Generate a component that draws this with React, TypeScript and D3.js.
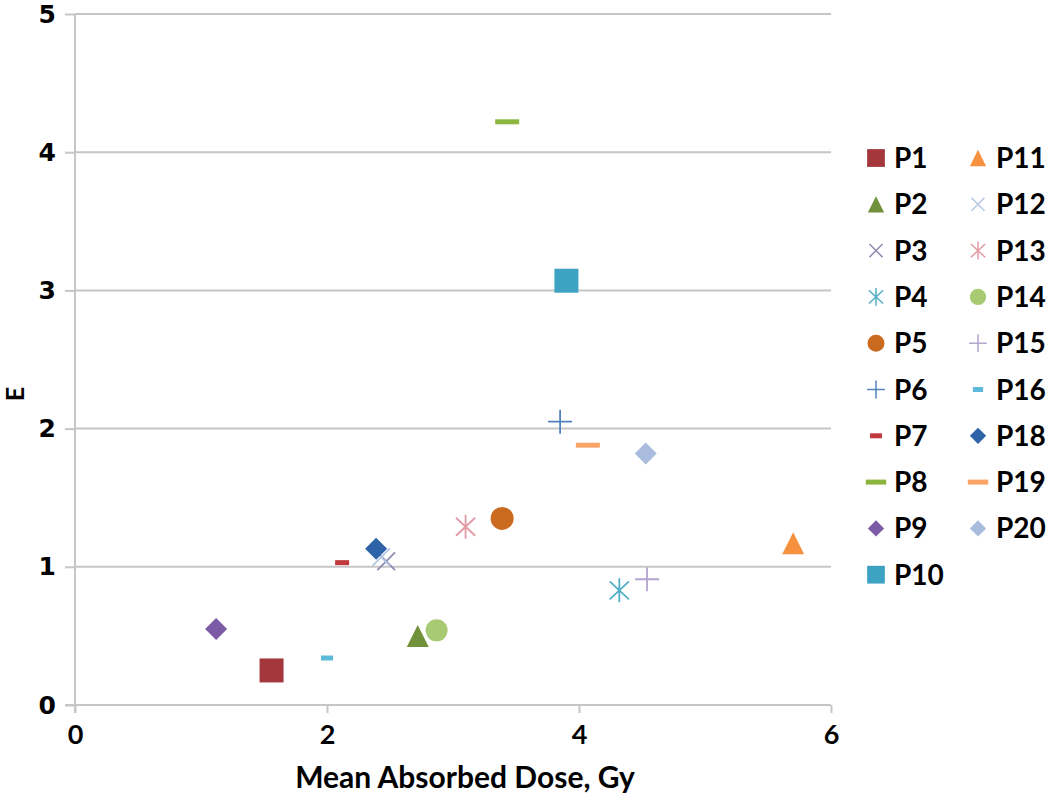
import * as d3 from "d3";
import React, { useEffect, useRef } from "react";

// series as they appear in the legend
const seriesNames = [
  "P1", "P2", "P3", "P4", "P5", "P6", "P7", "P8", "P9", "P10",
  "P11", "P12", "P13", "P14", "P15", "P16", "P18", "P19", "P20",
];

// Mean Absorbed Dose, Gy
const doseValues = [
  1.56, 2.72, 2.47, 4.32, 3.39, 3.85, 2.12, 3.43, 1.12, 3.9,
  5.7, 2.43, 3.1, 2.87, 4.54, 2.0, 2.39, 4.07, 4.53,
];

// E
const eValues = [
  0.25, 0.5, 1.04, 0.83, 1.35, 2.05, 1.03, 4.22, 0.55, 3.07,
  1.17, 1.07, 1.29, 0.54, 0.91, 0.34, 1.13, 1.88, 1.82,
];

const seriesColors = [
  "#a3373b", "#71913a", "#8f8cb2", "#52b0c6", "#c96a20", "#5383bd", "#c0393c", "#8cb53e", "#7c5ba6", "#3ea3c3",
  "#f5913f", "#b5c7e2", "#e49aa4", "#a7ca72", "#b3a5cf", "#5ebad9", "#2e63a8", "#f8a567", "#a9bcdd",
];

const seriesShapes = [
  "square", "triangle", "x", "star", "circle", "plus", "dash", "dash", "diamond", "square",
  "triangle", "x", "star", "circle", "plus", "dash", "diamond", "dash", "diamond",
];

// marker size in px, dash widths per series
const markerSizes = [
  24, 22, 22, 24, 23, 24, 14, 24, 22, 24,
  22, 22, 24, 22, 24, 12, 22, 24, 22,
];

const xTicks = [0, 2, 4, 6];
const yTicks = [0, 1, 2, 3, 4, 5];

const markerPath = (shape: string, s: number): string => {
  const h = s / 2;
  switch (shape) {
    case "square":
      return `M${-h},${-h}h${s}v${s}h${-s}Z`;
    case "triangle":
      return `M0,${-h}L${h},${h}L${-h},${h}Z`;
    case "diamond":
      return `M0,${-h}L${h},0L0,${h}L${-h},0Z`;
    case "circle":
      return d3.symbol(d3.symbolCircle, Math.PI * h * h)() || "";
    case "x":
      return `M${-h * 0.8},${-h * 0.8}L${h * 0.8},${h * 0.8}M${h * 0.8},${-h * 0.8}L${-h * 0.8},${h * 0.8}`;
    case "star":
      return `M${-h * 0.8},${-h * 0.75}L${h * 0.8},${h * 0.75}M${h * 0.8},${-h * 0.75}L${-h * 0.8},${h * 0.75}M0,${-h}L0,${h}`;
    case "plus":
      return `M${-h},0L${h},0M0,${-h}L0,${h}`;
    case "dash":
      return `M${-h},-2.5h${s}v5h${-s}Z`;
    default:
      return "";
  }
};

const isStroked = (shape: string) =>
  shape === "x" || shape === "star" || shape === "plus";

const App: React.FC = () => {
  const chartRef = useRef<SVGSVGElement>(null);
  const width = 1050;
  const height = 797;

  useEffect(() => {
    if (!chartRef.current) return;
    const svg = d3.select(chartRef.current);
    svg.selectAll("*").remove();

    const x = d3.scaleLinear().domain([0, 6]).range([75, 831]);
    const y = d3.scaleLinear().domain([0, 5]).range([705, 14]);

    // horizontal gridlines
    svg
      .append("g")
      .selectAll("line")
      .data(yTicks.filter((d) => d > 0))
      .enter()
      .append("line")
      .attr("x1", x(0))
      .attr("x2", x(6))
      .attr("y1", (d) => y(d))
      .attr("y2", (d) => y(d))
      .attr("stroke", "#c6c6c6")
      .attr("stroke-width", 2);

    // y axis
    const yAxis = svg
      .append("g")
      .attr("transform", `translate(${x(0)},0)`)
      .call(d3.axisLeft(y).tickValues(yTicks).tickSize(10).tickPadding(9).tickFormat(d3.format("d")));
    yAxis.select(".domain").attr("stroke", "#c6c6c6").attr("stroke-width", 2).attr("d", `M0,${y(0) + 8}V${y(5)}`);
    yAxis.selectAll(".tick line").attr("stroke", "#c6c6c6").attr("stroke-width", 2);
    yAxis
      .selectAll("text")
      .attr("fill", "#000")
      .style("font-family", "DejaVu Sans")
      .style("font-weight", "bold")
      .style("font-size", "25px");

    // x axis
    const xAxis = svg
      .append("g")
      .attr("transform", `translate(0,${y(0)})`)
      .call(d3.axisBottom(x).tickValues(xTicks).tickSize(8).tickPadding(12).tickFormat(d3.format("d")));
    xAxis.select(".domain").attr("stroke", "#c6c6c6").attr("stroke-width", 2).attr("d", `M${x(0) - 10},0H${x(6)}`);
    xAxis.selectAll(".tick line").attr("stroke", "#c6c6c6").attr("stroke-width", 2);
    xAxis
      .selectAll("text")
      .attr("fill", "#000")
      .style("font-family", "Lato")
      .style("font-weight", "bold")
      .style("font-size", "27px");

    // axis titles
    svg
      .append("text")
      .attr("x", 465)
      .attr("y", 788)
      .attr("text-anchor", "middle")
      .style("font-family", "Lato")
      .style("font-weight", "bold")
      .style("font-size", "30px")
      .text("Mean Absorbed Dose, Gy");

    svg
      .append("text")
      .attr("transform", `translate(24,394) rotate(-90)`)
      .attr("text-anchor", "middle")
      .style("font-family", "Lato")
      .style("font-weight", "bold")
      .style("font-size", "25px")
      .text("E");

    const points = seriesNames.map((name, i) => ({
      name,
      dose: doseValues[i],
      e: eValues[i],
      color: seriesColors[i],
      shape: seriesShapes[i],
      size: markerSizes[i],
    }));

    // markers
    svg
      .append("g")
      .selectAll("path")
      .data(points)
      .enter()
      .append("path")
      .attr("transform", (d) => `translate(${x(d.dose)},${y(d.e)})`)
      .attr("d", (d) => markerPath(d.shape, d.size))
      .attr("fill", (d) => (isStroked(d.shape) ? "none" : d.color))
      .attr("stroke", (d) => (isStroked(d.shape) ? d.color : "none"))
      .attr("stroke-width", 1.8);

    // legend, two columns
    const legend = svg
      .append("g")
      .selectAll("g")
      .data(points)
      .enter()
      .append("g")
      .attr("transform", (d, i) => {
        const col = i < 10 ? 0 : 1;
        const row = i < 10 ? i : i - 10;
        return `translate(${876 + col * 102},${158 + row * 46.3})`;
      });

    legend
      .append("path")
      .attr("d", (d) =>
        markerPath(d.shape, d.shape === "dash" ? d.size * 0.85 : d.size * 0.74)
      )
      .attr("fill", (d) => (isStroked(d.shape) ? "none" : d.color))
      .attr("stroke", (d) => (isStroked(d.shape) ? d.color : "none"))
      .attr("stroke-width", 1.5);

    legend
      .append("text")
      .attr("x", 18)
      .attr("dy", "0.36em")
      .style("font-family", "Lato")
      .style("font-weight", "bold")
      .style("font-size", "28px")
      .text((d) => d.name);
  }, []);

  return (
    <div style={{ position: "absolute", left: 0, top: 0 }}>
      <svg ref={chartRef} width={width} height={height} style={{ display: "block", background: "#fff" }} />
    </div>
  );
};

export default App;
